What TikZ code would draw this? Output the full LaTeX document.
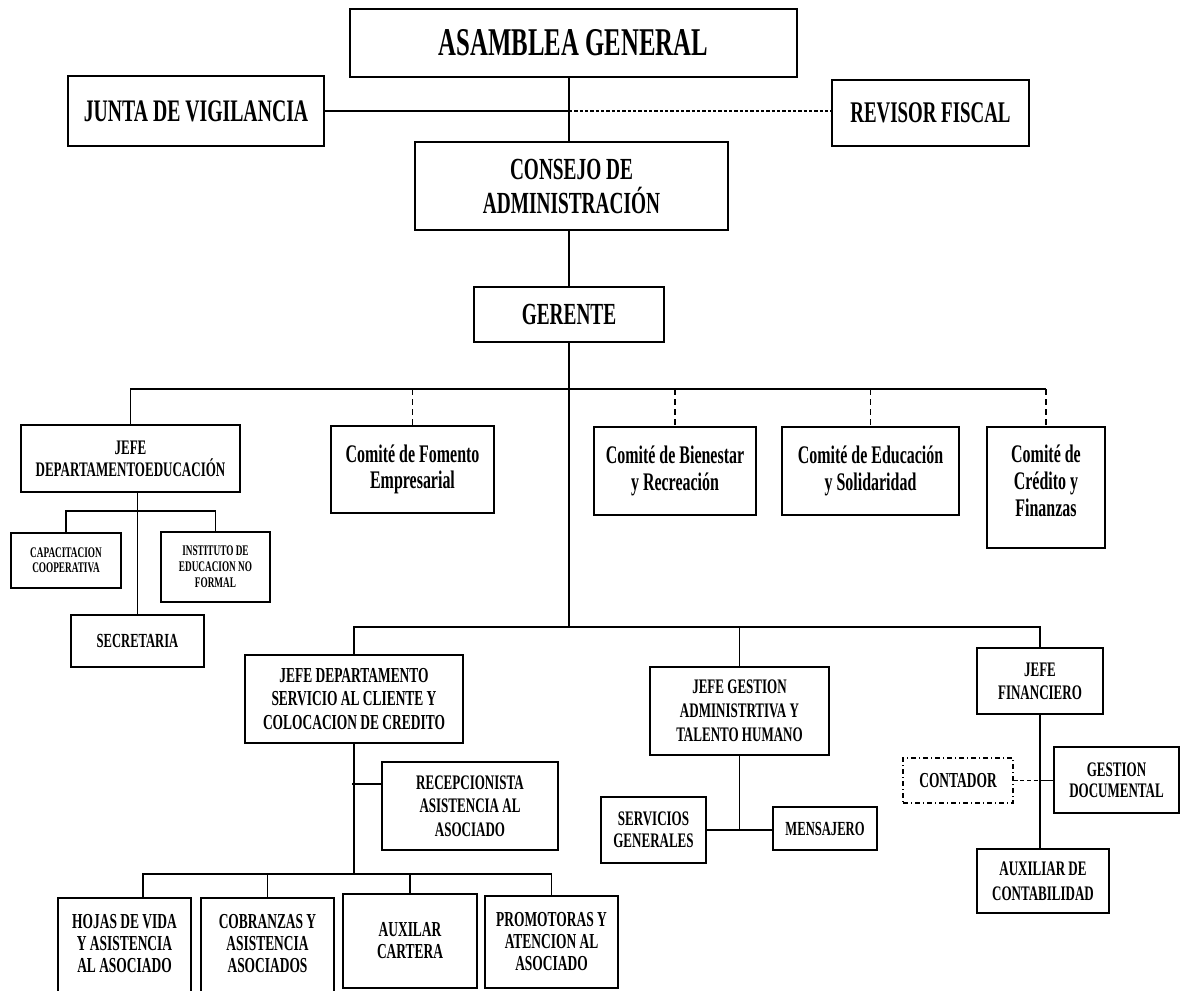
\documentclass[tikz,border=0pt]{standalone}
\usepackage{fontspec}
\newfontfamily\orgfont{Liberation Serif}[FakeStretch=0.63]
\begin{document}
\begin{tikzpicture}[x=0.75pt,y=-0.75pt,
  box/.style={draw=black, line width=1.4pt, fill=white, inner sep=0pt,
    align=center, text=black, font=\orgfont\bfseries},
  sz/.style 2 args={minimum width=#1*0.75pt, minimum height=#2*0.75pt},
  fs/.style 2 args={font=\orgfont\bfseries\fontsize{#1}{#2}\selectfont},
  link/.style={line width=1pt},
  dashlink/.style={line width=1pt, dash pattern=on 4.5pt off 3pt},
  finedash/.style={line width=1.5pt, dash pattern=on 2.5pt off 1.5pt},
  dashdotbox/.style={dash pattern=on 4pt off 2pt on 1pt off 2pt}]

\clip (0,0) rectangle (1181,990);
\fill[white] (0,0) rectangle (1181,990);

% ---- governing bodies ----
\node[box, sz={447}{68}, fs={29.5}{32}] (asam) at (573.5,43) {ASAMBLEA GENERAL};
\node[box, sz={256}{70}, fs={23.5}{26}] (junta) at (196,111) {JUNTA DE VIGILANCIA};
\node[box, sz={197}{66}, fs={22.5}{25}] (revisor) at (930.5,113) {REVISOR FISCAL};
\node[box, sz={313}{88}, fs={23}{25.5}] (consejo) at (571.5,186) {CONSEJO DE\\ADMINISTRACIÓN};
\node[box, sz={190}{55}, fs={23}{25}] (gerente) at (569,314.5) {GERENTE};

% ---- first level under the manager ----
\node[box, sz={219}{67}, fs={15.5}{16.5}] (jefeEd) at (130.5,458.5) {JEFE\\DEPARTAMENTOEDUCACIÓN};
\node[box, sz={163}{87}, fs={19}{20}] (fomento) at (412.5,469.5) {Comité de Fomento\\Empresarial};
\node[box, sz={162}{88}, fs={19}{20}] (bienestar) at (675,471) {Comité de Bienestar\\y Recreación};
\node[box, sz={177}{88}, fs={19}{20}] (educ) at (870.5,471) {Comité de Educación\\y Solidaridad};
\node[box, sz={118}{121}, fs={19}{20}, text depth=10pt] (credito) at (1046,487.5) {Comité de\\Crédito y\\Finanzas};

% ---- education department ----
\node[box, sz={110}{55}, fs={11}{11.5}] (capac) at (66,560.5) {CAPACITACION\\COOPERATIVA};
\node[box, sz={109}{70}, fs={11}{12}] (instituto) at (215.5,567) {INSTITUTO DE\\EDUCACION NO\\FORMAL};
\node[box, sz={133}{52}, fs={15}{17}] (secretaria) at (137.5,641) {SECRETARIA};

% ---- operative departments ----
\node[box, sz={218}{88}, fs={16}{17.3}] (jefeServ) at (354,699) {JEFE DEPARTAMENTO\\SERVICIO AL CLIENTE Y\\COLOCACION DE CREDITO};
\node[box, sz={179}{88}, fs={15.5}{18}] (jefeGest) at (739.5,711) {JEFE GESTION\\ADMINISTRTIVA Y\\TALENTO HUMANO};
\node[box, sz={126}{66}, fs={15.5}{17}] (jefeFin) at (1040,681) {JEFE\\FINANCIERO};

\node[box, sz={176}{88}, fs={15.5}{17.6}] (recep) at (470,806) {RECEPCIONISTA\\ASISTENCIA AL\\ASOCIADO};
\node[box, sz={105}{66}, fs={15.5}{16.5}] (servGen) at (653.5,830) {SERVICIOS\\GENERALES};
\node[box, sz={104}{43}, fs={15}{16}] (mensajero) at (825,828.5) {MENSAJERO};
\node[box, dashdotbox, line width=1pt, sz={110}{45}, fs={16}{17}] (contador) at (958,780.5) {CONTADOR};
\node[box, sz={125}{66}, fs={15.5}{16}] (gestDoc) at (1116.5,780) {GESTION\\DOCUMENTAL};
\node[box, sz={132}{64}, fs={15.5}{19}] (auxCont) at (1043,881) {AUXILIAR DE\\CONTABILIDAD};

\node[box, sz={133}{110}, fs={16}{16.5}, text depth=14pt] (hojas) at (124.5,953) {HOJAS DE VIDA\\Y ASISTENCIA\\AL ASOCIADO};
\node[box, sz={133}{110}, fs={16}{16.5}, text depth=14pt] (cobranzas) at (267.5,953) {COBRANZAS Y\\ASISTENCIA\\ASOCIADOS};
\node[box, sz={134}{94}, fs={16}{16.5}] (cartera) at (410,941) {AUXILAR\\CARTERA};
\node[box, sz={133}{92}, fs={16}{16.5}] (promo) at (551.5,942) {PROMOTORAS Y\\ATENCION AL\\ASOCIADO};

% ---- junction points ----
\coordinate (busA) at (569,389);
\coordinate (busB) at (569,627);
\coordinate (eduBus) at (137,511);
\coordinate (recBranch) at (352,784);
\coordinate (busC) at (143,874);

% ---- top of the chart ----
\draw[link] (gerente.north |- asam.south) -- (gerente.north |- consejo.north);
\draw[link, line width=1.5pt] (junta.east) -- (junta.east -| gerente.north);
\draw[finedash] (junta.east -| gerente.north) -- (revisor.west |- junta.east);
\draw[link] (gerente.north |- consejo.south) -- (gerente.north);
\draw[link] (gerente.south) -- (busB);

% ---- first bus: education head and committees ----
\draw[link] (jefeEd.north) -- (jefeEd.north |- busA) -- (credito.north |- busA);
\draw[dashlink] (fomento.north |- busA) -- (fomento.north);
\draw[dashlink] (bienestar.north |- busA) -- (bienestar.north);
\draw[dashlink] (educ.north |- busA) -- (educ.north);
\draw[dashlink] (credito.north |- busA) -- (credito.north);

% ---- education department ----
\draw[link] (secretaria.north |- jefeEd.south) -- (secretaria.north);
\draw[link] (capac.north) -- (capac.north |- eduBus) -- (instituto.north |- eduBus) -- (instituto.north);

% ---- second bus: department heads ----
\draw[link] (jefeServ.north) -- (jefeServ.north |- busB) -- (jefeFin.north |- busB) -- (jefeFin.north);
\draw[link] (jefeGest.north) -- (jefeGest.north |- busB);

% ---- customer service department ----
\draw[link] (jefeServ.south) -- (jefeServ.south |- busC);
\draw[link, line width=1.3pt] (recBranch) -- (recBranch -| recep.west);
\draw[link] (busC |- hojas.north) -- (busC) -- (promo.north |- busC) -- (promo.north);
\draw[link] (cobranzas.north |- busC) -- (cobranzas.north);
\draw[link] (cartera.north |- busC) -- (cartera.north);

% ---- administration department ----
\draw[link] (jefeGest.south) -- (jefeGest.south |- servGen.east);
\draw[link] (servGen.east) -- (mensajero.west |- servGen.east);

% ---- finance department ----
\draw[link] (jefeFin.south) -- (jefeFin.south |- auxCont.north);
\draw[link, dash pattern=on 3pt off 2pt] (contador.east) -- (contador.east -| jefeFin.south);
\draw[link] (contador.east -| jefeFin.south) -- (gestDoc.west |- contador.east);
\end{tikzpicture}
\end{document}
